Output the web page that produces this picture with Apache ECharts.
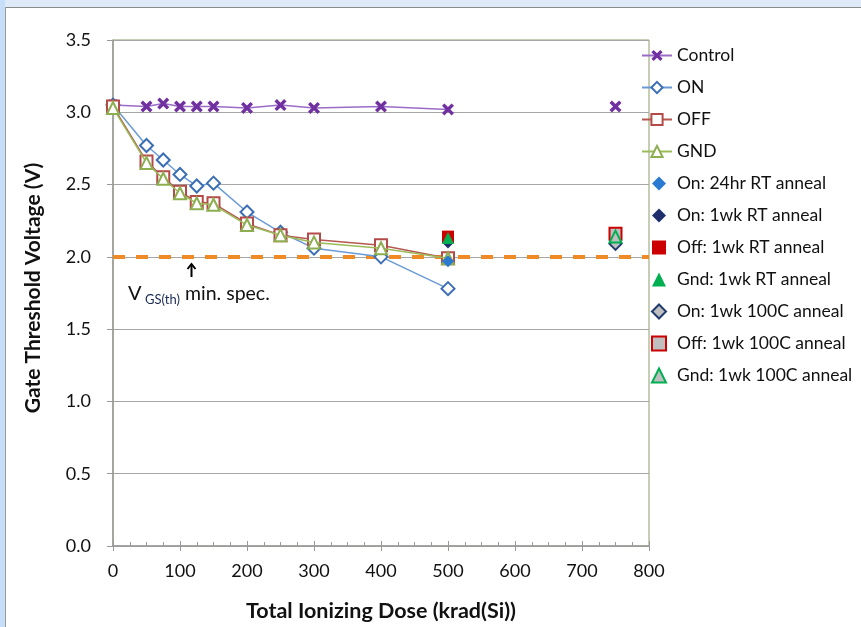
<!DOCTYPE html>
<html><head><meta charset="utf-8">
<script src="https://cdn.jsdelivr.net/npm/echarts@6/dist/echarts.min.js"></script>
<style>html,body{margin:0;padding:0;background:#fff}#c{width:861px;height:627px}</style>
</head><body><div id="c"></div>
<script>
// ---- data ----
const doseMain = [0, 50, 75, 100, 125, 150, 200, 250, 300, 400, 500];
const control  = [3.05, 3.04, 3.06, 3.04, 3.04, 3.04, 3.03, 3.05, 3.03, 3.04, 3.02];
const onBias   = [3.05, 2.77, 2.67, 2.57, 2.49, 2.51, 2.31, 2.17, 2.06, 2.00, 1.78];
const offBias  = [3.04, 2.66, 2.55, 2.45, 2.38, 2.37, 2.23, 2.15, 2.12, 2.08, 1.99];
const gndBias  = [3.03, 2.65, 2.54, 2.44, 2.37, 2.36, 2.22, 2.15, 2.10, 2.06, 1.99];
const controlLateDose = [750];
const controlLate     = [3.04];
const rtDose     = [500];
const on24hRT    = [1.97];
const on1wkRT    = [2.10];
const off1wkRT   = [2.14];
const gnd1wkRT   = [2.13];
const hotDose    = [750];
const on1wk100C  = [2.09];
const off1wk100C = [2.16];
const gnd1wk100C = [2.14];
const specMin = 2.0;
const xRange = [0, 800, 100];
const yRange = [0, 3.5, 0.5];
const lineNames = ['Control', 'ON', 'OFF', 'GND'];
const annealNames = ['On: 24hr RT anneal', 'On: 1wk RT anneal', 'Off: 1wk RT anneal', 'Gnd: 1wk RT anneal',
  'On: 1wk 100C anneal', 'Off: 1wk 100C anneal', 'Gnd: 1wk 100C anneal'];

const pairs = (xs, ys) => xs.map((x, i) => [x, ys[i]]);
const FONT = 'Lato';
const xSym = 'path://M2,0 L5,3 L8,0 L10,2 L7,5 L10,8 L8,10 L5,7 L2,10 L0,8 L3,5 L0,2 Z';

function lineS(name, data, sym, size, border, fill, lineColor, z) {
  return { name, type: 'line', data, symbol: sym, symbolSize: size, z,
    itemStyle: { color: fill, borderColor: border, borderWidth: sym === xSym ? 0 : 2 },
    lineStyle: { color: lineColor, width: 1.5 }, emphasis: { disabled: true }, animation: false };
}
function scatS(name, data, sym, size, border, fill, z) {
  return { name, type: 'scatter', data, symbol: sym, symbolSize: size, z,
    itemStyle: { color: fill, borderColor: border, borderWidth: fill === border ? 0 : 2, opacity: 1 },
    emphasis: { disabled: true }, animation: false };
}

const chart = echarts.init(document.getElementById('c'), null, { renderer: 'canvas' });
const ctrl = lineS(lineNames[0], pairs(doseMain, control), xSym, 12, '#7030a0', '#7030a0', '#9b6bc8', 3);
const onS = lineS(lineNames[1], pairs(doseMain, onBias), 'diamond', 13, '#3c6eb4', '#ffffff', '#6a9bd6', 3);
const offS = lineS(lineNames[2], pairs(doseMain, offBias), 'rect', 12, '#b44b48', '#ffffff', '#b5584f', 3);
const gndS = lineS(lineNames[3], pairs(doseMain, gndBias), 'triangle', 12, '#8cae4f', '#ffffff', '#9bbb59', 4);
gndS.markLine = { silent: true, symbol: 'none', label: { show: false },
  lineStyle: { color: '#f08a24', width: 4, type: [12, 11] }, data: [{ yAxis: specMin }], z: 2 };

const legendText = { fontFamily: FONT, fontSize: 17.5, color: '#111', lineHeight: 19 };
const option = {
  backgroundColor: '#ffffff',
  textStyle: { fontFamily: FONT },
  grid: { left: 113, top: 40, right: 212, bottom: 81, show: true, borderColor: '#8c9d6a', borderWidth: 1 },
  legend: [{
    orient: 'vertical', left: 641, top: 46, padding: 0, itemWidth: 30, itemHeight: 14, itemGap: 13,
    textStyle: legendText, data: lineNames, selectedMode: false
  }, {
    orient: 'vertical', left: 651, top: 174, padding: 0, itemWidth: 14, itemHeight: 14, itemGap: 13,
    textStyle: Object.assign({ padding: [0, 0, 0, 6] }, legendText), data: annealNames, selectedMode: false
  }],
  xAxis: [{
    type: 'value', min: xRange[0], max: xRange[1], interval: xRange[2],
    axisLine: { show: true, onZero: false, lineStyle: { color: '#999', width: 1.5 } },
    axisTick: { show: true, inside: true, length: 5, lineStyle: { color: '#999' } },
    minorTick: { show: true, splitNumber: 4, length: 4, lineStyle: { color: '#999' } },
    splitLine: { show: false },
    axisLabel: { fontFamily: FONT, fontSize: 18, color: '#111', margin: 16 },
    name: 'Total Ionizing Dose (krad(Si))', nameLocation: 'middle', nameGap: 54,
    nameTextStyle: { fontFamily: FONT, fontSize: 21.5, fontWeight: 'bold', color: '#111' }
  }, {
    type: 'value', position: 'bottom', min: xRange[0], max: xRange[1], interval: xRange[2],
    axisLine: { show: false }, axisTick: { show: true, length: 5, lineStyle: { color: '#999' } },
    axisLabel: { show: false }, splitLine: { show: false }
  }],
  yAxis: {
    type: 'value', min: yRange[0], max: yRange[1], interval: yRange[2],
    axisLine: { show: true, lineStyle: { color: '#999', width: 1.5 } },
    axisTick: { show: true, length: 6, lineStyle: { color: '#999' } },
    splitLine: { show: true, lineStyle: { color: '#a6a6a6', width: 1.2 } },
    axisLabel: { fontFamily: FONT, fontSize: 18, color: '#111', margin: 22, formatter: v => v.toFixed(1) },
    name: 'Gate Threshold Voltage (V)', nameLocation: 'middle', nameGap: 69,
    nameTextStyle: { fontFamily: FONT, fontSize: 21, fontWeight: 'bold', color: '#111', padding: [0, 0, 0, 10] }
  },
  graphic: [
    { type: 'rect', shape: { x: 0, y: 0, width: 861, height: 7 }, style: { fill: '#dfeaf8' }, silent: true },
    { type: 'rect', shape: { x: 0, y: 7, width: 861, height: 1 }, style: { fill: '#8a8a8a' }, silent: true },
    { type: 'rect', shape: { x: 0, y: 0, width: 5, height: 627 }, style: { fill: '#c6def7' }, silent: true },
    { type: 'rect', shape: { x: 5, y: 7, width: 1, height: 620 }, style: { fill: '#9a9a9a' }, silent: true },
    { type: 'polyline', shape: { points: [[191.5, 277], [191.5, 264]] }, style: { stroke: '#000', lineWidth: 2 }, silent: true },
    { type: 'polyline', shape: { points: [[187.5, 269], [191.5, 264], [195.5, 269]] }, style: { stroke: '#000', lineWidth: 2, fill: null }, silent: true },
    { type: 'text', x: 128, y: 284, style: { text: 'V', fontFamily: FONT, fontSize: 20, fill: '#111' }, silent: true },
    { type: 'text', x: 145, y: 293, style: { text: 'GS(th)', fontFamily: FONT, fontSize: 13, fill: '#1a2a50' }, silent: true },
    { type: 'text', x: 185, y: 284, style: { text: 'min. spec.', fontFamily: FONT, fontSize: 19.5, fill: '#111' }, silent: true }
  ],
  series: [
    ctrl, onS, offS, gndS,
    scatS(annealNames[0], pairs(rtDose, on24hRT), 'diamond', 12, '#2a7ad2', '#2a7ad2', 7),
    scatS(annealNames[1], pairs(rtDose, on1wkRT), 'diamond', 12, '#1f2f6e', '#1f2f6e', 5),
    scatS(annealNames[2], pairs(rtDose, off1wkRT), 'rect', 12, '#cc0000', '#cc0000', 5),
    scatS(annealNames[3], pairs(rtDose, gnd1wkRT), 'triangle', 12, '#00b050', '#00b050', 6),
    scatS(annealNames[4], pairs(hotDose, on1wk100C), 'diamond', 12, '#1f3a6e', '#bfbfbf', 5),
    scatS(annealNames[5], pairs(hotDose, off1wk100C), 'rect', 12, '#cc0000', '#bfbfbf', 5),
    scatS(annealNames[6], pairs(hotDose, gnd1wk100C), 'triangle', 12, '#00b050', '#bfbfbf', 6),
    scatS(lineNames[0], pairs(controlLateDose, controlLate), xSym, 12, '#7030a0', '#7030a0', 3)
  ]
};
chart.setOption(option);
</script></body></html>
